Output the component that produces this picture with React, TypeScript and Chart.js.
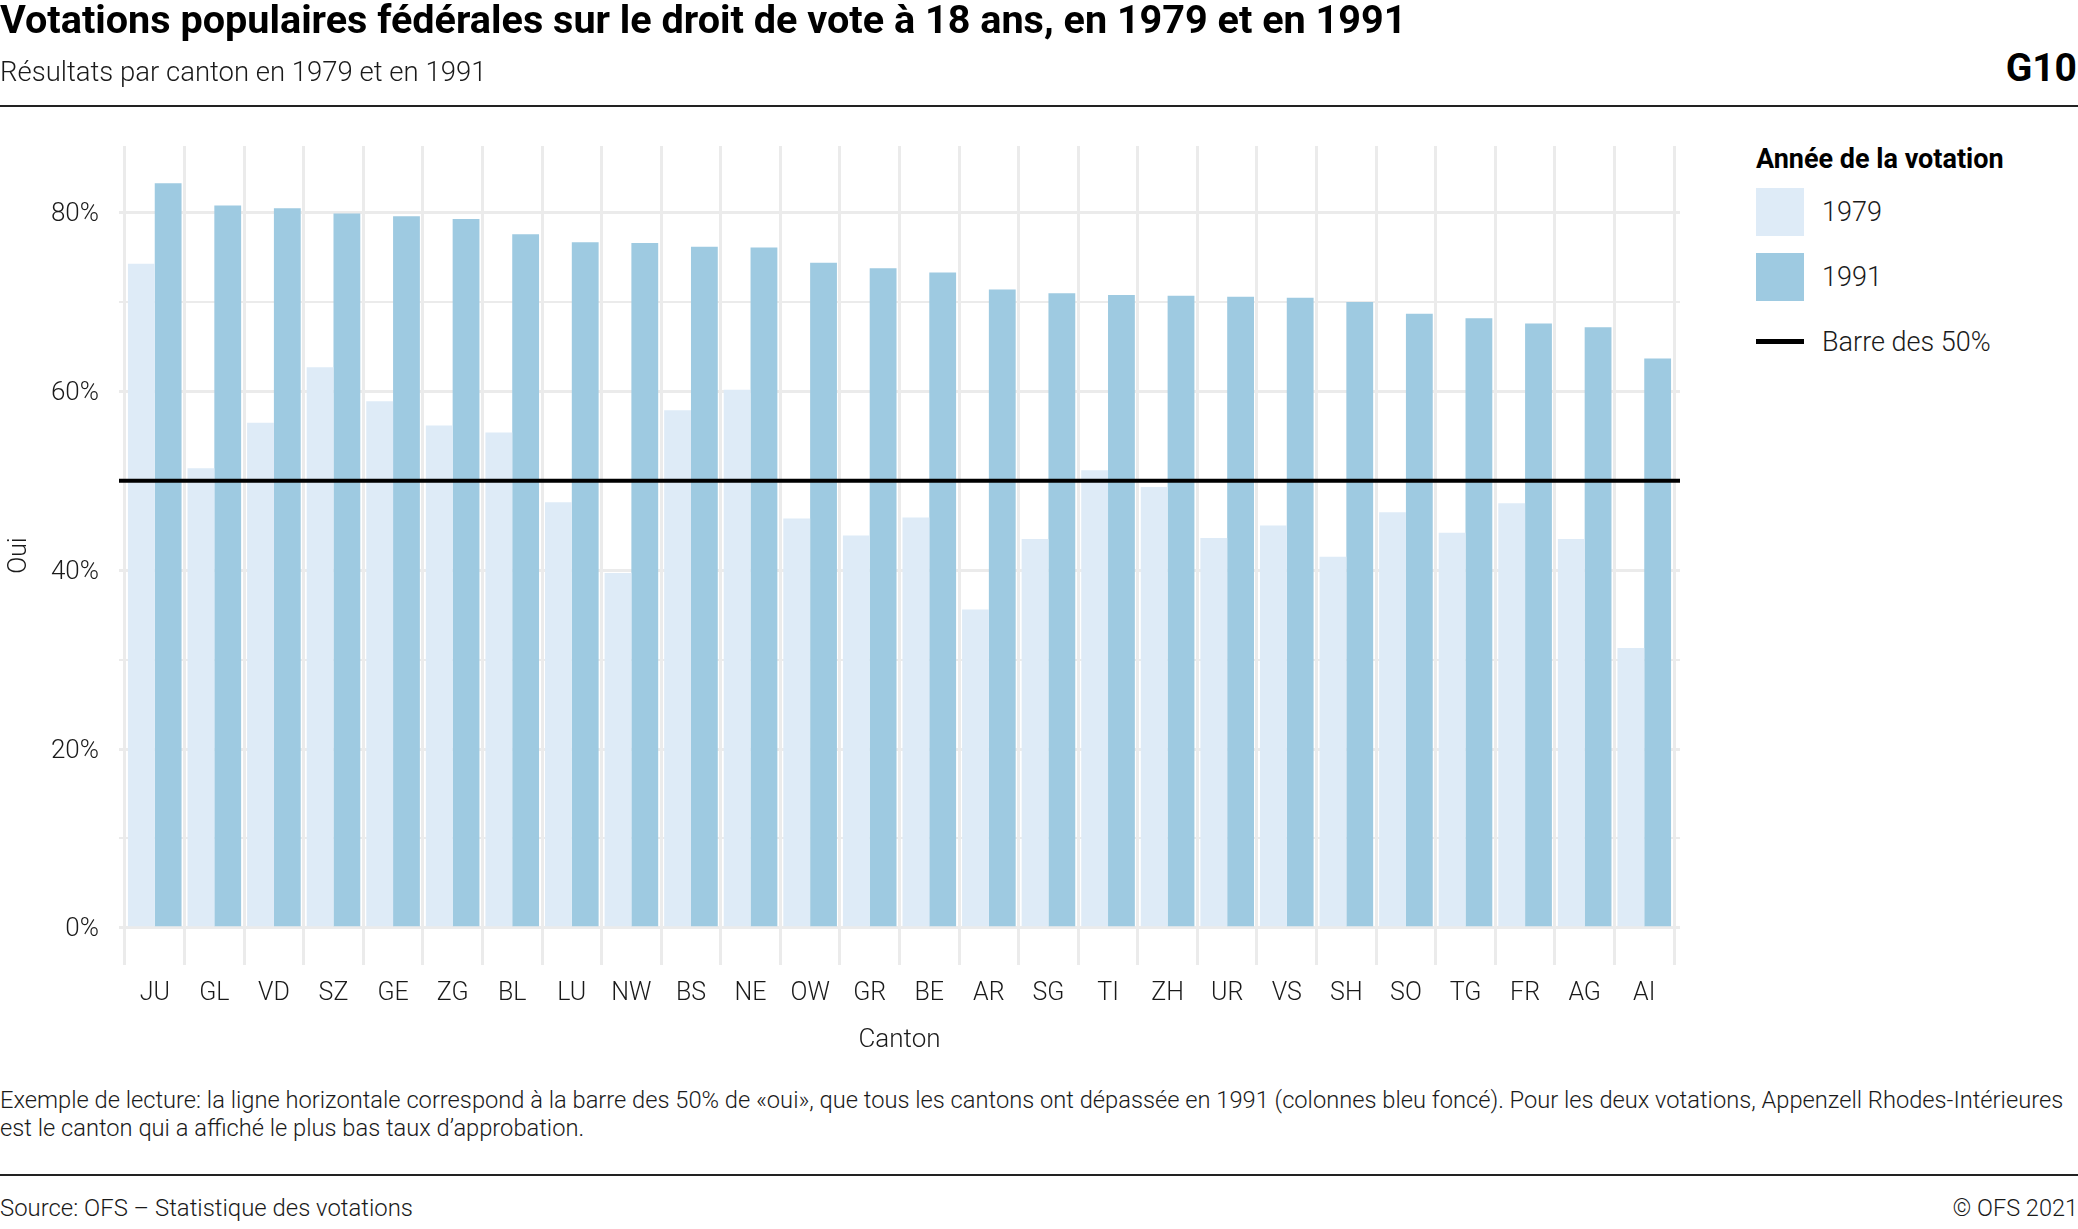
import React, { useEffect, useRef } from "react";
import { Chart, registerables } from "chart.js";

Chart.register(...registerables);

const cantons = ["JU","GL","VD","SZ","GE","ZG","BL","LU","NW","BS","NE","OW","GR","BE","AR","SG","TI","ZH","UR","VS","SH","SO","TG","FR","AG","AI"];
const oui1979 = [74.3,51.4,56.5,62.7,58.9,56.2,55.4,47.6,39.7,57.9,60.2,45.8,43.9,45.9,35.6,43.5,51.2,49.3,43.6,45.0,41.5,46.5,44.2,47.5,43.5,31.3];
const oui1991 = [83.3,80.8,80.5,79.9,79.6,79.3,77.6,76.7,76.6,76.2,76.1,74.4,73.8,73.3,71.4,71.0,70.8,70.7,70.6,70.5,70.0,68.7,68.2,67.6,67.2,63.7];
const seuil = 50;
const yTicks = [0, 20, 40, 60, 80];
const seriesLabels = ["1979", "1991"];
const seuilLabel = "Barre des 50%";
const colLight = "#deebf7";
const colDark = "#9ecae1";

const FONT = "Roboto, 'Noto Sans', sans-serif";
const TXT = "#1a1a1a";

export default function App() {
  const ref = useRef<HTMLCanvasElement | null>(null);

  useEffect(() => {
    if (!ref.current) return;
    const n = cantons.length;
    const chart = new Chart(ref.current, {
      type: "bar",
      data: {
        datasets: [
          {
            type: "line",
            label: seuilLabel,
            data: [{ x: -0.6, y: seuil }, { x: n - 1 + 0.6, y: seuil }],
            borderColor: "#000",
            borderWidth: 4,
            pointRadius: 0,
            order: -1,
          } as any,
          {
            label: seriesLabels[0],
            data: oui1979.map((v, i) => ({ x: i, y: v })),
            backgroundColor: colLight,
            borderWidth: 0,
            categoryPercentage: 0.9,
            barPercentage: 1.0,
          },
          {
            label: seriesLabels[1],
            data: oui1991.map((v, i) => ({ x: i, y: v })),
            backgroundColor: colDark,
            borderWidth: 0,
            categoryPercentage: 0.9,
            barPercentage: 1.0,
          },
        ],
      },
      options: {
        animation: false,
        responsive: false,
        maintainAspectRatio: false,
        layout: { padding: { top: 146, right: 20, left: 0, bottom: 0 } },
        plugins: { legend: { display: false }, tooltip: { enabled: false } },
        scales: {
          x: {
            type: "linear",
            min: -0.6,
            max: n - 1 + 0.6,
            offset: false,
            afterFit: (s: any) => { s.height = 95; },
            border: { display: false },
            grid: { color: "#ebebeb", lineWidth: 3, drawTicks: false },
            ticks: {
              stepSize: 1,
              includeBounds: false,
              autoSkip: false,
              maxRotation: 0,
              maxTicksLimit: 100,
              padding: 13.5,
              color: TXT,
              font: { family: FONT, size: 25, weight: "300" as any },
              callback: (v: any) => cantons[Math.round(v)] ?? "",
            },
            title: {
              display: true,
              text: "Canton",
              color: TXT,
              font: { family: FONT, size: 26, weight: "300" as any },
              padding: { top: 0, bottom: 4 },
            },
          },
          y: {
            type: "linear",
            min: -4.165,
            max: 87.465,
            afterFit: (s: any) => { s.width = 119; },
            border: { display: false },
            grid: {
              color: "#ebebeb",
              drawTicks: false,
              lineWidth: (c: any) => (c.tick && yTicks.includes(Math.round(c.tick.value)) ? 3 : 2),
            },
            ticks: {
              stepSize: 10,
              includeBounds: false,
              maxTicksLimit: 100,
              padding: 20,
              labelOffset: 2,
              color: TXT,
              font: { family: FONT, size: 26, weight: "300" as any },
              callback: (v: any) => (yTicks.includes(Math.round(v)) ? `${Math.round(v)}%` : ""),
            },
            title: {
              display: true,
              text: "Oui",
              color: TXT,
              font: { family: FONT, size: 25, weight: "300" as any },
              padding: { top: 5, bottom: 0 },
            },
          },
        },
      },
    });
    return () => chart.destroy();
  }, []);

  const abs = (s: React.CSSProperties): React.CSSProperties => ({ position: "absolute", whiteSpace: "nowrap", fontFamily: FONT, ...s });

  return (
    <div style={{ position: "absolute", left: 0, top: 0, width: 2078, height: 1229, background: "#fff", overflow: "hidden" }}>
      <canvas ref={ref} width={1700} height={1060} style={{ position: "absolute", left: 0, top: 0, width: 1700, height: 1060 }} />

      <div style={abs({ left: 0, top: -3, fontSize: 39.6, lineHeight: "46px", fontWeight: 700, color: "#000" })}>
        Votations populaires fédérales sur le droit de vote à 18 ans, en 1979 et en 1991
      </div>
      <div style={abs({ left: 0, top: 56, fontSize: 27.5, lineHeight: "32px", fontWeight: 300, color: TXT })}>
        Résultats par canton en 1979 et en 1991
      </div>
      <div style={abs({ right: 1, top: 45, fontSize: 39, lineHeight: "46px", fontWeight: 700, color: "#000" })}>G10</div>
      <div style={{ position: "absolute", left: 0, top: 105, width: 2078, height: 2, background: "#222" }} />

      <div style={abs({ left: 1756, top: 139, fontSize: 27, lineHeight: "40px", fontWeight: 700, color: "#000" })}>
        Année de la votation
      </div>
      <div style={{ position: "absolute", left: 1756, top: 188, width: 48, height: 48, background: colLight }} />
      <div style={abs({ left: 1822, top: 192, fontSize: 27, lineHeight: "40px", fontWeight: 300, color: TXT })}>{seriesLabels[0]}</div>
      <div style={{ position: "absolute", left: 1756, top: 253, width: 48, height: 48, background: colDark }} />
      <div style={abs({ left: 1822, top: 257, fontSize: 27, lineHeight: "40px", fontWeight: 300, color: TXT })}>{seriesLabels[1]}</div>
      <div style={{ position: "absolute", left: 1756, top: 339, width: 48, height: 5, background: "#000" }} />
      <div style={abs({ left: 1822, top: 322, fontSize: 27, lineHeight: "40px", fontWeight: 300, color: TXT })}>{seuilLabel}</div>

      <div style={abs({ left: 0, top: 1086, fontSize: 23.7, lineHeight: "28px", fontWeight: 300, color: TXT })}>
        Exemple de lecture: la ligne horizontale correspond à la barre des 50% de «oui», que tous les cantons ont dépassée en 1991 (colonnes bleu foncé). Pour les deux votations, Appenzell Rhodes-Intérieures
        <br />
        est le canton qui a affiché le plus bas taux d’approbation.
      </div>
      <div style={{ position: "absolute", left: 0, top: 1174, width: 2078, height: 2, background: "#222" }} />
      <div style={abs({ left: 0, top: 1193, fontSize: 23.9, lineHeight: "30px", fontWeight: 300, color: TXT })}>
        Source: OFS – Statistique des votations
      </div>
      <div style={abs({ right: 0, top: 1193, fontSize: 23.5, lineHeight: "30px", fontWeight: 300, color: TXT })}>© OFS 2021</div>
    </div>
  );
}
